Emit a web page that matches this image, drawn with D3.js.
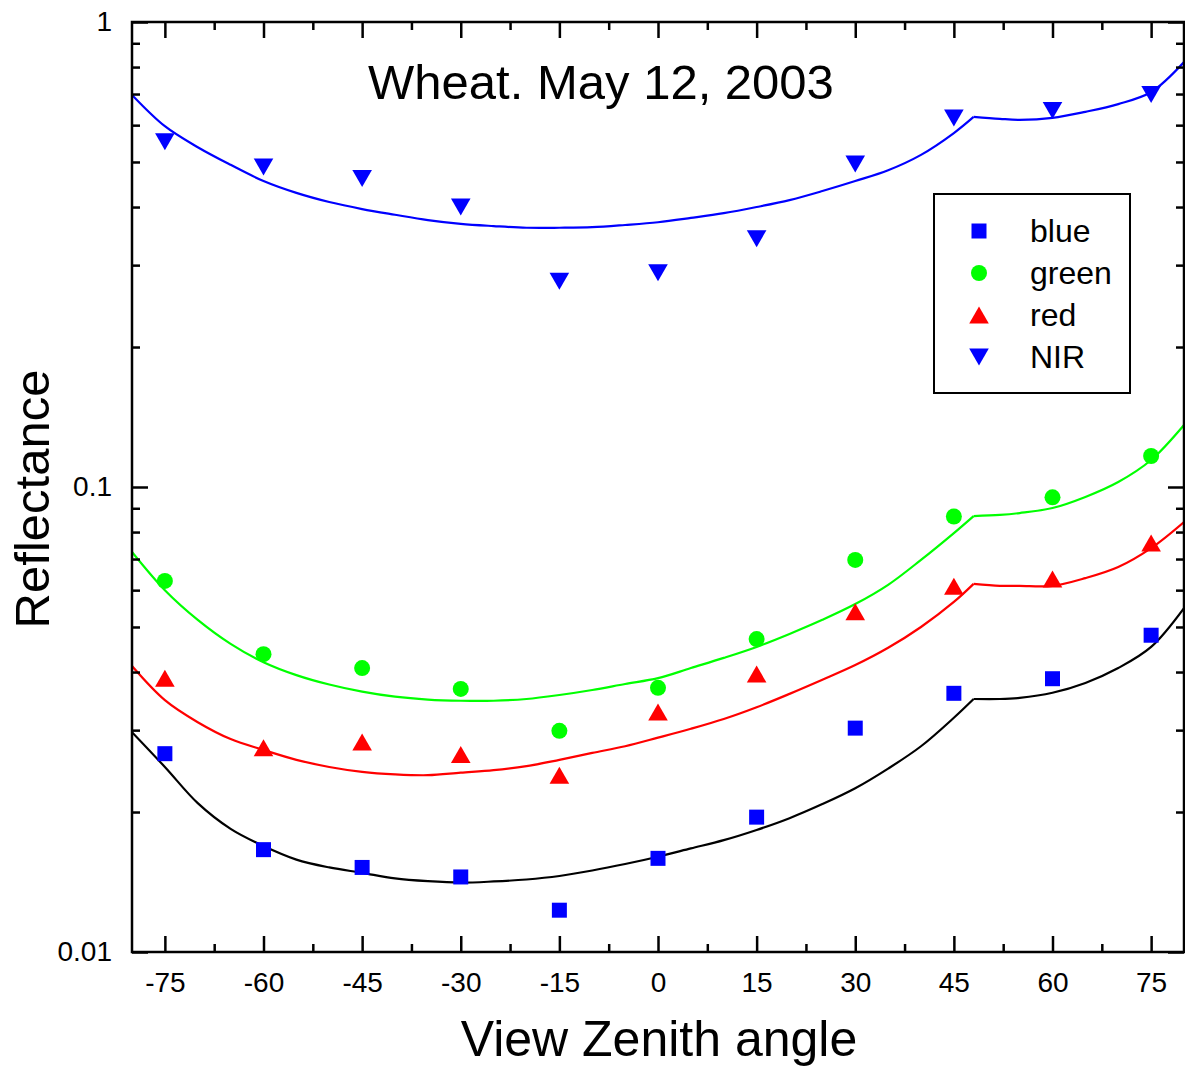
<!DOCTYPE html>
<html>
<head>
<meta charset="utf-8">
<script src="https://cdn.jsdelivr.net/npm/d3@7"></script>
<style>
  html, body { margin: 0; padding: 0; background: #fff; }
  svg { display: block; }
  text { font-family: Arial, "Liberation Sans", sans-serif; fill: #000; }
</style>
</head>
<body>
<svg id="chart" width="1185" height="1070"></svg>
<script>
// ---- data ----
const angles = [-75, -60, -45, -30, -15, 0, 15, 30, 45, 60, 75];
const blueObs  = [0.0267, 0.0166, 0.0152, 0.0145, 0.0123, 0.0159, 0.0195, 0.0303, 0.0360, 0.0387, 0.0480];
const greenObs = [0.0628, 0.0437, 0.0408, 0.0368, 0.0299, 0.0370, 0.0471, 0.0697, 0.0864, 0.0950, 0.1166];
const redObs   = [0.0388, 0.0275, 0.0283, 0.0266, 0.0240, 0.0328, 0.0396, 0.0539, 0.0612, 0.0634, 0.0758];
const nirObs   = [0.553, 0.488, 0.461, 0.400, 0.277, 0.289, 0.342, 0.495, 0.622, 0.645, 0.698];

const fitAngles = [-80, -75, -70, -65, -60, -55, -50, -45, -40, -35, -30, -25, -20, -15, -10, -5, 0, 5, 10, 15, 20, 25, 30, 35, 40, 45, 48, 52, 55, 60, 65, 70, 75, 80];
const kinkAngle = 48;
const nirFit   = [0.697, 0.597, 0.538, 0.493, 0.455, 0.429, 0.410, 0.396, 0.385, 0.375, 0.368, 0.364, 0.361, 0.361, 0.362, 0.366, 0.371, 0.379, 0.388, 0.400, 0.414, 0.433, 0.455, 0.480, 0.518, 0.577, 0.625, 0.619, 0.616, 0.622, 0.641, 0.666, 0.707, 0.820];
const greenFit = [0.0725, 0.0600, 0.0518, 0.0460, 0.0420, 0.0394, 0.0376, 0.0363, 0.0354, 0.0349, 0.0347, 0.0347, 0.0350, 0.0357, 0.0366, 0.0377, 0.0388, 0.0408, 0.0429, 0.0453, 0.0483, 0.0518, 0.0560, 0.0616, 0.0697, 0.0796, 0.0866, 0.0871, 0.0879, 0.0901, 0.0952, 0.1025, 0.1143, 0.1359];
const redFit   = [0.0412, 0.0348, 0.0312, 0.0287, 0.0272, 0.0259, 0.0250, 0.0244, 0.0241, 0.0240, 0.0243, 0.0246, 0.0251, 0.0259, 0.0268, 0.0277, 0.0289, 0.0302, 0.0317, 0.0336, 0.0359, 0.0385, 0.0414, 0.0451, 0.0500, 0.0566, 0.0619, 0.0613, 0.0613, 0.0613, 0.0637, 0.0673, 0.0739, 0.0841];
const blueFit  = [0.0297, 0.0250, 0.0209, 0.0184, 0.0169, 0.0158, 0.0152, 0.0148, 0.0144, 0.0142, 0.0141, 0.01418, 0.01432, 0.01457, 0.01497, 0.01546, 0.01603, 0.0167, 0.0174, 0.0183, 0.0194, 0.0208, 0.0225, 0.0248, 0.0277, 0.0319, 0.0350, 0.0350, 0.0352, 0.0361, 0.0379, 0.0408, 0.0453, 0.0549];

const xMajorTicks = [-75, -60, -45, -30, -15, 0, 15, 30, 45, 60, 75];
const xMinorTicks = [-67.5, -52.5, -37.5, -22.5, -7.5, 7.5, 22.5, 37.5, 52.5, 67.5];
const yMajorTicks = [0.01, 0.1, 1];
const yMajorLabels = ["0.01", "0.1", "1"];
const yMinorTicks = [0.02, 0.03, 0.04, 0.05, 0.06, 0.07, 0.08, 0.09, 0.2, 0.3, 0.4, 0.5, 0.6, 0.7, 0.8, 0.9];

const legendNames = ["blue", "green", "red", "NIR"];
const title = "Wheat. May 12, 2003";
const xTitle = "View Zenith angle";
const yTitle = "Reflectance";

// ---- layout ----
const L = 132, T = 22, R = 1184, B = 952;
const svg = d3.select("#chart");
const x = d3.scaleLinear().domain([-80, 80]).range([L, R]);
const y = d3.scaleLog().domain([0.01, 1]).range([B, T]);

const series = [
  { name: "blue",  obs: blueObs,  fit: blueFit,  color: "#0000ff", line: "#000000", shape: "square" },
  { name: "green", obs: greenObs, fit: greenFit, color: "#00ff00", line: "#00ff00", shape: "circle" },
  { name: "red",   obs: redObs,   fit: redFit,   color: "#ff0000", line: "#ff0000", shape: "up" },
  { name: "NIR",   obs: nirObs,   fit: nirFit,   color: "#0000ff", line: "#0000ff", shape: "down" }
];

function markerPath(shape) {
  if (shape === "square") return "M-7.5,-7.5H7.5V7.5H-7.5Z";
  if (shape === "circle") return d3.symbol(d3.symbolCircle, 201)();
  if (shape === "up") return "M0,-8.5L9.8,8.5L-9.8,8.5Z";
  return "M0,8.5L9.8,-8.5L-9.8,-8.5Z";
}

// clip
svg.append("defs").append("clipPath").attr("id", "clip")
  .append("rect").attr("x", L).attr("y", T).attr("width", R - L).attr("height", B - T);

// fit curves (two smooth segments joined at the kink)
const line = d3.line().x(d => x(d[0])).y(d => y(d[1])).curve(d3.curveCatmullRom.alpha(0.5));
const gLines = svg.append("g").attr("clip-path", "url(#clip)");
series.forEach(s => {
  const pts = fitAngles.map((a, i) => [a, s.fit[i]]);
  const seg1 = pts.filter(p => p[0] <= kinkAngle);
  const seg2 = pts.filter(p => p[0] >= kinkAngle);
  [seg1, seg2].forEach(seg => {
    gLines.append("path")
      .datum(seg)
      .attr("d", line)
      .attr("fill", "none")
      .attr("stroke", s.line)
      .attr("stroke-width", 2.2)
      .attr("stroke-linejoin", "round");
  });
});

// markers
series.forEach(s => {
  svg.append("g").selectAll("path")
    .data(angles.map((a, i) => [a, s.obs[i]]))
    .join("path")
    .attr("d", markerPath(s.shape))
    .attr("transform", d => `translate(${x(d[0])},${y(d[1])})`)
    .attr("fill", s.color);
});

// axes
const fmtY = d => yMajorLabels[yMajorTicks.indexOf(d)];
function styleAxis(g) {
  g.selectAll(".domain").remove();
  g.selectAll(".tick line").attr("stroke", "#000").attr("stroke-width", 2.5);
}
const axB = svg.append("g").attr("transform", `translate(0,${B})`)
  .call(d3.axisBottom(x).tickValues(xMajorTicks).tickSize(-16).tickPadding(20).tickFormat(d => String(d)));
axB.selectAll("text").style("font-size", "28px").attr("font-family", null);
styleAxis(axB);
const axBm = svg.append("g").attr("transform", `translate(0,${B})`)
  .call(d3.axisBottom(x).tickValues(xMinorTicks).tickSize(-8).tickFormat(""));
styleAxis(axBm);
const axT = svg.append("g").attr("transform", `translate(0,${T})`)
  .call(d3.axisTop(x).tickValues(xMajorTicks).tickSize(-16).tickFormat(""));
styleAxis(axT);
const axTm = svg.append("g").attr("transform", `translate(0,${T})`)
  .call(d3.axisTop(x).tickValues(xMinorTicks).tickSize(-8).tickFormat(""));
styleAxis(axTm);

const axL = svg.append("g").attr("transform", `translate(${L},0)`)
  .call(d3.axisLeft(y).tickValues(yMajorTicks).tickSize(-16).tickPadding(20).tickFormat(fmtY));
axL.selectAll("text").style("font-size", "28px").attr("font-family", null);
styleAxis(axL);
const axLm = svg.append("g").attr("transform", `translate(${L},0)`)
  .call(d3.axisLeft(y).tickValues(yMinorTicks).tickSize(-8).tickFormat(""));
styleAxis(axLm);
const axR = svg.append("g").attr("transform", `translate(${R},0)`)
  .call(d3.axisRight(y).tickValues(yMajorTicks).tickSize(-16).tickFormat(""));
styleAxis(axR);
const axRm = svg.append("g").attr("transform", `translate(${R},0)`)
  .call(d3.axisRight(y).tickValues(yMinorTicks).tickSize(-8).tickFormat(""));
styleAxis(axRm);

// frame
svg.append("rect").attr("x", L).attr("y", T).attr("width", R - L).attr("height", B - T)
  .attr("fill", "none").attr("stroke", "#000").attr("stroke-width", 2.5);

// titles
svg.append("text").attr("x", 601).attr("y", 99).attr("text-anchor", "middle")
  .style("font-size", "49px").text(title);
svg.append("text").attr("x", 659).attr("y", 1056).attr("text-anchor", "middle")
  .style("font-size", "50px").text(xTitle);
svg.append("text").attr("transform", "translate(49,499) rotate(-90)").attr("text-anchor", "middle")
  .style("font-size", "49px").text(yTitle);

// legend
const lg = svg.append("g");
lg.append("rect").attr("x", 934).attr("y", 194).attr("width", 196).attr("height", 199)
  .attr("fill", "#fff").attr("stroke", "#000").attr("stroke-width", 2);
series.forEach((s, i) => {
  const cy = 231 + i * 42;
  lg.append("path").attr("d", markerPath(s.shape)).attr("transform", `translate(979,${cy})`).attr("fill", s.color);
  lg.append("text").attr("x", 1030).attr("y", cy + 11).style("font-size", "32px").text(legendNames[i]);
});
</script>
</body>
</html>
